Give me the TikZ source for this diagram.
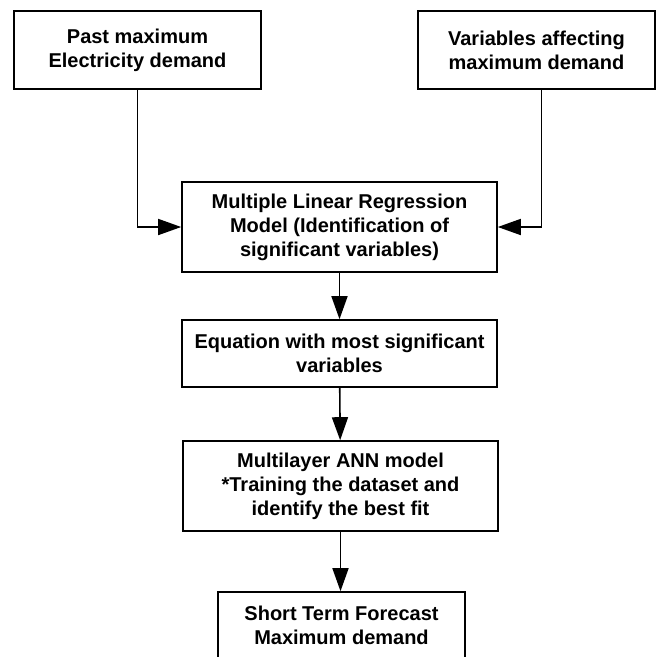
\documentclass[tikz,border=0pt]{standalone}
\usepackage{fontspec}
\setmainfont{Liberation Sans}
\usepackage{tikz}
\usetikzlibrary{calc, arrows.meta}

\begin{document}
\begin{tikzpicture}[x=1pt, y=-1pt,
        box/.style={rectangle, draw=black, line width=1.6pt, fill=white, align=center,
            inner sep=0pt, font=\fontsize{20}{24}\selectfont\bfseries},
        arr/.style={line width=1.6pt, -{Triangle[length=23pt, width=16pt]}}
    ]
    \useasboundingbox (0,0) rectangle (656,657);
    \clip (0,0) rectangle (656,657);
    \node[box, minimum width=247pt, minimum height=78pt] (past) at (137.5,50) {Past maximum\\Electricity demand};
    \node[box, minimum width=237pt, minimum height=78pt] (vars) at (536.5,50) {Variables affecting\\maximum demand};
    \node[box, minimum width=315pt, minimum height=90pt] (mlr) at (339.5,227) {Multiple Linear Regression\\Model (Identification of\\significant variables)};
    \node[box, minimum width=315pt, minimum height=67pt] (eqn) at (339.5,353.5) {Equation with most significant\\variables};
    \node[box, minimum width=315pt, minimum height=90pt] (ann) at (340.5,486) {Multilayer ANN model\\*Training the dataset and\\identify the best fit};
    \node[box, minimum width=247pt, minimum height=67pt] (fcst) at (341.5,625.5) {Short Term Forecast\\Maximum demand};
    \draw[arr] (past.south) |- (mlr.west);
    \draw[arr] ([xshift=5pt]vars.south) |- (mlr.east);
    \draw[arr] (mlr) -- (eqn);
    \draw[arr] (eqn) -- (ann);
    \draw[arr] (ann.south) -- (ann.south |- fcst.north);
\end{tikzpicture}
\end{document}
